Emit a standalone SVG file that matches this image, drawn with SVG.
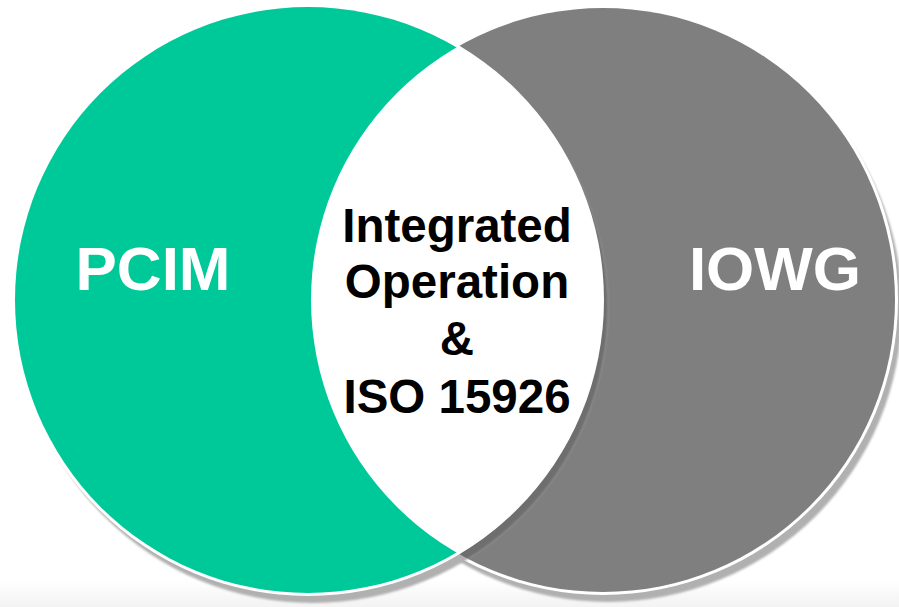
<svg xmlns="http://www.w3.org/2000/svg" width="899" height="607" viewBox="0 0 899 607">
  <style>
    .lbl { font-family: "Liberation Sans", Arial, sans-serif; font-weight: bold; text-anchor: middle; }
    .big { font-size: 62px; fill: #ffffff; }
    .mid { font-size: 47.5px; fill: #000000; }
    .shadow { fill: #b0b0b0; }
    .ring { fill: #ffffff; }
  </style>
  <defs>
    <clipPath id="grayClip">
      <circle cx="603" cy="300" r="292"/>
    </clipPath>
    <filter id="soft" x="-5%" y="-5%" width="110%" height="110%">
      <feGaussianBlur stdDeviation="0.8"/>
    </filter>
    <linearGradient id="floor" x1="0" y1="0" x2="0" y2="1">
      <stop offset="0" stop-color="#ffffff"/>
      <stop offset="1" stop-color="#f3f3f3"/>
    </linearGradient>
  </defs>
  <rect x="0" y="0" width="899" height="607" fill="#ffffff"/>
  <rect x="0" y="580" width="899" height="27" fill="url(#floor)"/>

  <g id="iowg">
    <circle class="shadow" cx="608" cy="308" r="294" filter="url(#soft)"/>
    <circle class="ring" cx="603" cy="300" r="295"/>
    <circle cx="603" cy="300" r="292" fill="#7f7f7f"/>
    <text class="lbl big" x="775" y="290">IOWG</text>
  </g>

  <g id="pcim">
    <circle class="shadow" cx="313" cy="308" r="295" filter="url(#soft)"/>
    <g clip-path="url(#grayClip)">
      <circle cx="313" cy="308" r="295" fill="#6e6e6e" filter="url(#soft)"/>
    </g>
    <circle class="ring" cx="308" cy="300" r="296"/>
    <circle cx="308" cy="300" r="293" fill="#00c999"/>
    <text class="lbl big" x="153" y="290">PCIM</text>
  </g>

  <g id="overlap">
    <g clip-path="url(#grayClip)">
      <circle cx="308" cy="300" r="294.5" fill="#ffffff"/>
    </g>
    <text class="lbl mid" x="457" y="242">Integrated</text>
    <text class="lbl mid" x="457" y="298">Operation</text>
    <text class="lbl mid" x="457" y="355">&amp;</text>
    <text class="lbl mid" x="457" y="413">ISO 15926</text>
  </g>
</svg>
